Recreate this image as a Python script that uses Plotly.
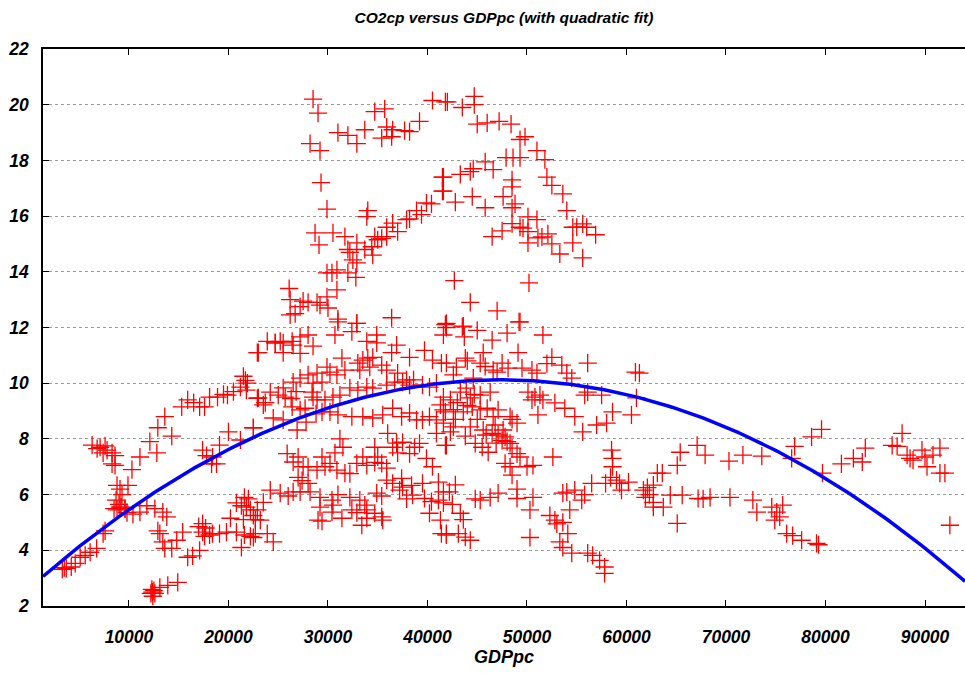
import numpy as np
import plotly.graph_objects as go

# ---------------- data ----------------
gdp_a = [12200, 12400, 12500, 12300, 12600, 12350, 13100, 13900, 14900, 3700, 4200, 4600, 5100, 5600, 6100, 6750, 7400, 7600, 3300, 3500]
co2_a = [2.45, 2.35, 2.55, 2.6, 2.45, 2.5, 2.67, 2.74, 2.85, 3.35, 3.4, 3.53, 3.75, 3.82, 3.93, 4.07, 4.6, 4.7, 3.32, 3.38]

gdp_b = [8500, 8800, 9200, 9600, 9800, 9100, 9600, 10400, 11100, 11800, 12600, 13400, 13800, 8800, 9100, 9300, 9900, 8700, 9000]
co2_b = [5.5, 5.45, 5.55, 5.5, 5.35, 5.55, 5.5, 5.3, 5.37, 5.6, 5.5, 5.37, 5.2, 6.33, 6.2, 6.0, 6.33, 5.8, 5.65]

gdp_c = [12900, 13100, 13400, 13600, 14300, 14800, 15400, 15900, 16400, 17100, 17400, 17400, 17700, 18100, 18400,
         19100, 19800, 20800, 21300, 21600, 22200, 22700, 20200, 17000, 17600]
co2_c = [4.7, 4.6, 4.3, 4.07, 4.07, 4.36, 4.65, 3.75, 3.8, 4.0, 4.65, 4.96, 4.8, 4.55, 4.6,
         4.6, 4.65, 4.65, 4.1, 4.55, 4.5, 4.6, 5.15, 4.85, 4.5]

gdp_d = [20800, 21300, 21600, 21800, 22200, 22500, 22700, 21500, 23500, 22900, 23200, 22500, 23900, 24500, 22000]
co2_d = [5.7, 5.6, 5.9, 5.55, 5.45, 5.25, 5.1, 5.1, 5.72, 5.45, 5.08, 4.46, 4.6, 4.3, 5.85]

gdp_e = [6300, 7100, 7400, 7800, 8300, 8600, 8300, 8600, 10300, 11100, 12100, 12800, 12900, 13600, 14300,
         15300, 15900, 17100, 17600, 18100, 18900, 19900, 21200, 21700, 21800, 22500, 22900, 22900, 20000, 21200,
         17400, 17800, 18400, 19100, 18300, 18800, 6800, 7600]
co2_e = [7.78, 7.7, 7.5, 7.6, 7.5, 7.4, 7.1, 7.05, 6.9, 7.35, 7.9, 7.5, 8.4, 8.8, 8.1,
         9.15, 9.4, 9.15, 9.15, 9.5, 9.5, 9.57, 9.86, 10.1, 9.75, 8.4, 11.1, 9.46, 8.25, 7.96,
         7.6, 7.4, 7.35, 7.78, 7.1, 7.1, 7.65, 7.75]

gdp_f = [28500, 29000, 28200, 29200, 31000, 32000, 32900, 33700, 34700, 35700, 35400, 35900, 36400, 36500, 37700,
         38200, 39200, 40500, 41800, 29300, 29900, 28700, 29100, 30500, 31700, 34000, 33900, 32000, 32900, 32200,
         32500, 32900, 33700, 34400, 34500, 34700, 35000, 35400, 35900, 35900, 36500, 37000, 37900, 38200, 38900,
         39400, 39900, 40400, 41500, 41500]
co2_f = [20.2, 19.7, 18.6, 18.35, 19.0, 18.9, 18.6, 19.1, 19.75, 19.85, 18.8, 19.2, 18.85, 19.1, 19.07,
         19.03, 19.4, 20.15, 20.1, 17.2, 16.25, 15.4, 14.97, 15.4, 15.26, 16.2, 15.98, 14.8, 15.04, 14.7,
         14.43, 14.32, 14.8, 14.9, 14.6, 15.26, 15.15, 15.2, 15.26, 15.6, 15.75, 15.44, 15.87, 15.9, 16.2,
         16.05, 16.47, 16.44, 17.4, 16.9]

gdp_g = [29900, 30400, 30900, 32000, 32800, 30900, 26100, 26200, 27200, 28000, 28900, 29900, 29200, 30000, 26200,
         26700, 31000, 32900, 36400, 27500]
co2_g = [13.96, 13.96, 14.07, 13.96, 13.8, 13.35, 13.4, 13.0, 12.75, 12.9, 12.9, 13.1, 12.8, 12.7, 12.45,
         12.5, 12.3, 12.15, 12.35, 12.95]

gdp_h = [42000, 43500, 44700, 44700, 45000, 46000, 47200, 48400, 49300, 49800, 51000, 51800, 47900, 48600, 49300,
         45800, 44600, 44300, 43300, 41600, 46600, 48500, 48500, 52000, 52500, 53600, 54000, 41600, 42800, 44500,
         45800, 47600, 48800, 48500, 50100, 51000, 48500, 49300, 49600, 47500, 46500, 50100, 50100, 51100, 51500,
         52100, 52500, 53300, 54600, 55000, 55600, 56000, 56900, 54600, 55600, 42700, 50200, 44300, 47000, 49200,
         41900, 43500]
co2_h = [20.1, 19.9, 20.3, 20.0, 19.3, 19.35, 19.4, 19.3, 18.75, 18.85, 18.35, 18.03, 18.1, 18.1, 18.1,
         17.95, 17.7, 17.6, 17.5, 17.4, 17.67, 17.3, 17.05, 17.4, 17.1, 16.8, 16.2, 16.9, 16.5, 16.7,
         16.3, 16.7, 16.44, 16.3, 15.97, 15.87, 15.73, 15.6, 15.57, 15.47, 15.26, 15.44, 15.04, 15.22, 15.25,
         15.36, 15.0, 14.64, 15.6, 15.6, 15.72, 15.6, 15.33, 15.04, 14.5, 13.68, 13.6, 12.9, 12.6, 12.2,
         12.15, 12.02]

gdp_i = [31000, 32900, 41600, 41900, 23900, 24700, 25500, 26400, 27200, 28000, 26500, 23000, 25500, 27200, 28500,
         30700, 32400, 33900, 34900, 34900, 36900, 36400, 38200, 39700, 40500, 41400, 31400, 33000, 33500, 34000,
         34500, 33200, 34200, 35400, 35900, 37000, 37900, 38600, 29900, 30200, 30900, 31700, 28900, 28000, 27200,
         28500, 29400, 26500, 25500, 25000, 24200, 23000, 23500, 25700, 26400, 27200, 27700, 28400, 28500, 28900,
         29700, 30500, 31200, 32200, 33000, 33900, 34500, 35900, 36700, 37500, 38200, 39500, 40200, 40900]
co2_i = [12.2, 12.15, 11.73, 12.0, 11.5, 11.45, 11.45, 11.5, 11.66, 11.73, 11.37, 11.1, 11.1, 11.07, 11.33,
         11.73, 11.85, 11.5, 11.73, 11.45, 11.37, 11.1, 10.93, 11.18, 10.83, 10.72, 10.9, 10.72, 10.83, 10.9,
         10.93, 10.47, 10.58, 10.65, 10.47, 10.36, 10.12, 10.12, 10.58, 10.4, 10.3, 10.47, 10.36, 10.3, 10.18,
         10.0, 10.04, 10.04, 9.83, 9.57, 9.68, 9.47, 9.22, 9.5, 9.15, 9.04, 9.1, 9.68, 9.5, 9.4,
         9.4, 9.5, 9.57, 9.83, 9.75, 9.86, 9.82, 9.93, 10.04, 10.04, 9.93, 9.93, 9.86, 10.0]

gdp_j = [24500, 25500, 22500, 26900, 29400, 30200, 31000, 32400, 33500, 34500, 35500, 36500, 37400, 38200, 38900,
         39500, 40200, 40900, 41300, 41800, 40900, 27800, 28800, 36000]
co2_j = [8.75, 8.68, 8.4, 8.32, 8.97, 8.97, 8.86, 8.8, 8.8, 8.75, 8.86, 9.1, 8.8, 8.93, 8.68,
         8.68, 8.8, 8.68, 9.22, 8.97, 8.2, 8.6, 8.9, 8.2]

gdp_k = [31200, 31500, 30700, 29400, 25900, 27000, 26500, 27500, 28000, 28900, 29700, 30200, 30900, 31700, 32200,
         27000, 28000, 27400, 32900, 33500, 33900, 34700, 35400, 35000, 35900, 34700, 36500, 37000, 36900, 37500,
         38200, 38700, 39200, 39900, 40500, 41800, 35900, 36500, 37500, 38400, 39500, 41100, 41600, 37400]
co2_k = [8.0, 7.7, 7.5, 7.35, 7.47, 7.35, 7.17, 7.0, 7.0, 6.88, 7.0, 7.12, 6.88, 6.77, 6.75,
         6.62, 6.4, 6.5, 7.12, 7.35, 7.05, 7.16, 7.12, 7.35, 6.95, 7.7, 7.7, 7.5, 7.85, 7.88,
         7.47, 7.7, 7.84, 7.3, 7.0, 7.77, 6.52, 6.4, 6.27, 6.33, 6.4, 6.45, 6.1, 6.58]

gdp_l = [24200, 25200, 26500, 27200, 28200, 29200, 30400, 30500, 32200, 33200, 33700, 33900, 34700, 35400, 32400,
         32900, 30400, 29200, 29000, 29400, 31400, 33400, 33900, 35500, 34900, 35400, 40200, 41300, 41400, 41900,
         39700, 40400, 41100, 38500, 37900, 37200, 26000, 31000]
co2_l = [6.16, 6.05, 6.1, 6.1, 6.1, 5.9, 5.8, 5.62, 5.9, 5.8, 5.62, 5.45, 5.33, 5.2, 5.45,
         5.35, 5.37, 5.55, 5.08, 5.05, 5.15, 4.9, 5.15, 5.08, 6.05, 5.95, 5.33, 5.08, 4.6, 4.55,
         5.86, 5.75, 5.8, 5.98, 5.85, 6.16, 5.95, 6.0]

gdp_m = [41800, 43600, 43700, 45000, 46500, 48000, 49300, 51600, 49100, 45600, 43800, 41900, 42900, 45300, 46600,
         47500, 48100, 49500, 50500, 51000, 52500, 53500, 54000, 54500, 56100, 60900, 42600, 44600, 45800, 47000,
         44000, 52000]
co2_m = [12.1, 12.05, 11.66, 11.9, 11.55, 11.8, 12.2, 11.73, 11.1, 11.1, 10.9, 10.72, 10.58, 10.72, 10.47,
         10.72, 10.54, 10.54, 10.47, 10.36, 10.93, 10.65, 10.36, 10.18, 10.72, 10.4, 10.3, 10.18, 10.6, 10.4,
         10.8, 10.7]

gdp_n = [41600, 42300, 43300, 43900, 44300, 44700, 45300, 46300, 44500, 41600, 42600, 43600, 45300, 46000, 47100,
         46600, 48300, 48500, 49000, 41600, 42600, 42300, 44300, 45600, 45900, 46500, 47100, 47600, 47800, 48300,
         48500, 49000, 49300, 48000, 47500, 46900, 44800, 45500, 46100, 41900, 47800, 48300, 50000, 50600, 48500,
         52600, 43000, 44000, 45000, 46800, 42800, 43800]
co2_n = [9.5, 9.4, 9.68, 9.82, 9.47, 9.6, 9.57, 9.68, 9.15, 9.04, 9.05, 8.97, 9.04, 9.1, 9.04,
         8.8, 8.8, 8.7, 8.57, 8.57, 8.43, 8.25, 8.43, 8.32, 8.14, 8.2, 8.14, 8.32, 8.07, 7.84,
         7.67, 7.47, 7.35, 7.9, 7.95, 7.85, 7.84, 7.7, 7.52, 7.77, 7.12, 7.0, 7.0, 7.05, 6.7,
         7.35, 9.3, 9.2, 8.7, 8.5, 8.7, 8.1]

gdp_o = [50100, 50500, 51300, 51600, 50800, 52800, 53800, 54800, 51100, 55600, 55800, 56100, 57500, 57000, 58000,
         58600, 60500, 61000]
co2_o = [9.68, 9.4, 9.57, 9.4, 9.5, 9.29, 9.1, 8.8, 8.86, 8.25, 9.57, 9.68, 9.57, 8.5, 8.57,
         8.97, 8.86, 9.47]

gdp_p = [58500, 58600, 58600, 58400, 59000, 59300, 60200, 59500, 57900, 56500, 54800, 54000, 53600, 55800, 55500,
         54300, 52300, 52800, 53000, 53600, 54100, 53300, 53600, 54500, 56100, 56600, 57300, 57800, 57800, 50300,
         50300, 49000, 49000, 47100, 46300, 45300, 44800, 50600, 42800, 42200, 41600, 42500, 43300, 43600, 41900,
         43100, 43800, 44300, 63100]
co2_p = [7.6, 7.3, 7.0, 6.62, 6.52, 6.4, 6.45, 6.16, 6.4, 6.4, 6.16, 6.09, 6.05, 6.0, 5.8,
         5.45, 5.25, 5.08, 4.95, 5.0, 4.6, 4.3, 4.1, 3.9, 3.9, 3.82, 3.64, 3.4, 3.17, 5.45,
         4.46, 6.2, 5.86, 6.05, 5.9, 5.8, 5.85, 5.9, 6.35, 6.1, 5.7, 5.65, 5.33, 5.1, 4.6,
         4.6, 4.47, 4.36, 6.77]

gdp_q = [61300, 61700, 62100, 62700, 61900, 62700, 62700, 63700, 62300, 64400, 65600, 65100, 63600, 65100, 65400,
         67100, 67900, 67200, 67700, 68400, 70400, 70300, 71700, 73600, 72700, 73100, 74600, 75700, 75100, 75400,
         74900, 76100, 76700, 77600, 79100, 79300, 76600, 76900, 78600, 79600, 79700, 81600, 82800, 83700, 84000,
         86700, 87200, 87700, 88200, 88500, 88800, 89700, 90000, 90200, 90800, 91500, 91500, 92000, 92500]
co2_q = [10.36, 6.16, 6.25, 6.34, 5.9, 5.72, 5.55, 5.55, 6.0, 5.98, 5.98, 4.97, 6.77, 7.05, 7.52,
         7.77, 7.42, 5.86, 5.85, 5.9, 5.9, 7.2, 7.42, 7.38, 5.8, 5.37, 5.55, 5.62, 5.37, 5.2,
         5.08, 4.6, 4.53, 4.36, 4.25, 4.2, 7.3, 7.73, 8.07, 8.34, 6.77, 7.1, 7.3, 7.17, 7.67,
         7.77, 7.73, 8.2, 7.42, 7.3, 7.24, 7.6, 7.35, 7.0, 7.42, 7.67, 6.77, 6.77, 4.9]

gdp_r = [21500, 21900, 19500, 16500, 20500, 24700, 25200, 23700, 26300, 26800]
co2_r = [10.25, 10.0, 9.6, 9.3, 9.7, 11.45, 11.5, 9.3, 9.45, 9.7]

# quadratic fit coefficients (c0 + c1*x + c2*x^2)
fit_coef = [2.638, 3.157e-4, -3.33e-9]

x_range = [1360, 94020]
y_range = [2, 22]
x_ticks = [10000, 20000, 30000, 40000, 50000, 60000, 70000, 80000, 90000]

title_text = "CO2cp versus GDPpc (with quadratic fit)"
x_title = "GDPpc"

# ---------------- build ----------------
gdp = (gdp_a + gdp_b + gdp_c + gdp_d + gdp_e + gdp_f + gdp_g + gdp_h + gdp_i + gdp_j
       + gdp_k + gdp_l + gdp_m + gdp_n + gdp_o + gdp_p + gdp_q + gdp_r)
co2 = (co2_a + co2_b + co2_c + co2_d + co2_e + co2_f + co2_g + co2_h + co2_i + co2_j
       + co2_k + co2_l + co2_m + co2_n + co2_o + co2_p + co2_q + co2_r)

xf = np.linspace(x_range[0], x_range[1], 300)
yf = fit_coef[0] + fit_coef[1] * xf + fit_coef[2] * xf ** 2

font_bi = dict(family="Liberation Sans, Arial, sans-serif", color="black", weight="bold", style="italic")

fig = go.Figure()
fig.add_trace(go.Scatter(
    x=gdp, y=co2, mode="markers", showlegend=False,
    marker=dict(symbol="cross-thin", size=13, color="red", line=dict(color="red", width=1.3)),
))
fig.add_trace(go.Scatter(
    x=xf, y=yf, mode="lines", showlegend=False,
    line=dict(color="#0000ff", width=3.5),
))

fig.update_layout(
    width=965, height=673,
    margin=dict(l=43, r=0, t=49, b=67),
    paper_bgcolor="white", plot_bgcolor="white",
    title=dict(text=title_text, x=0.5, xref="paper", y=1 - 18 / 673, yref="container",
               xanchor="center", yanchor="middle", font=dict(size=15.5, **font_bi)),
)
fig.update_xaxes(
    range=x_range, tickvals=x_ticks, tickformat="d",
    showgrid=False, zeroline=False,
    showline=True, linecolor="black", linewidth=1.5, mirror="ticks",
    ticks="inside", ticklen=6, tickcolor="black", tickwidth=1,
    tickfont=dict(size=17.5, **font_bi), ticklabelstandoff=14,
    title=dict(text=x_title, font=dict(size=18, **font_bi), standoff=4),
)
fig.update_yaxes(
    range=y_range, dtick=2, tick0=2,
    showgrid=True, gridcolor="#999999", griddash="dot", gridwidth=1,
    zeroline=False,
    showline=True, linecolor="black", linewidth=1.5, mirror=False,
    ticks="inside", ticklen=6, tickcolor="black", tickwidth=1,
    tickfont=dict(size=17.5, **font_bi), ticklabelstandoff=9,
)

fig.write_html("out.html")
